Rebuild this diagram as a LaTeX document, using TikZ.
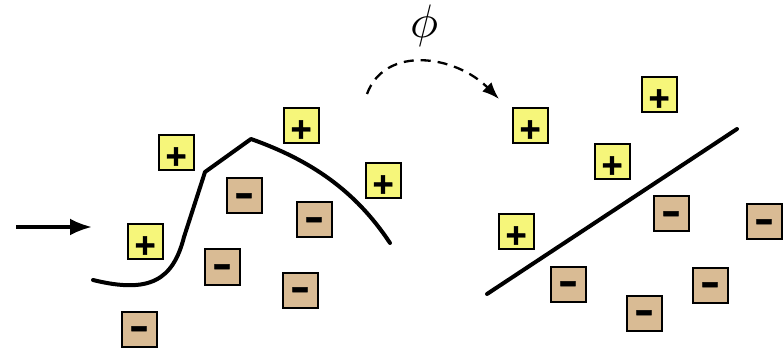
\documentclass[tikz,border=0pt]{standalone}
\usepackage{fontspec}
\newfontfamily\signfont[FakeBold=1.2]{Liberation Sans}
\usetikzlibrary{arrows.meta}
\definecolor{posfill}{RGB}{246,246,122}
\definecolor{negfill}{RGB}{217,187,148}
\newcommand{\possign}{\raisebox{-15.5pt}[0pt][0pt]{+}}
\newcommand{\negsign}{\raisebox{-10.5pt}[0pt][0pt]{\scalebox{1.6}[1.15]{-}}}
\begin{document}
\begin{tikzpicture}[x=1pt,y=-1pt,
  chargebox/.style={draw=black,line width=2pt,minimum size=35pt,inner sep=0pt,
    font=\signfont\bfseries\fontsize{36}{36}\selectfont},
  posbox/.style={chargebox,fill=posfill},
  negbox/.style={chargebox,fill=negfill},
  bound/.style={line width=4pt,line cap=round,line join=round}]
\useasboundingbox (0,0) rectangle (783,352);
% left side
\node[posbox] (p1) at (176,153) {\possign};
\node[posbox] (p2) at (301,126) {\possign};
\node[posbox] (p3) at (383,181) {\possign};
\node[posbox] (p4) at (145,242) {\possign};
\node[negbox] (n1) at (244,196) {\negsign};
\node[negbox] (n2) at (314,220) {\negsign};
\node[negbox] (n3) at (222,267) {\negsign};
\node[negbox] (n4) at (300,290) {\negsign};
\node[negbox] (n5) at (139,329) {\negsign};
% right side
\node[posbox] (q1) at (530,126) {\possign};
\node[posbox] (q2) at (659,95) {\possign};
\node[posbox] (q3) at (612,162) {\possign};
\node[posbox] (q4) at (516,232) {\possign};
\node[negbox] (m1) at (671,214) {\negsign};
\node[negbox] (m2) at (764,222) {\negsign};
\node[negbox] (m3) at (568,284) {\negsign};
\node[negbox] (m4) at (710,285) {\negsign};
\node[negbox] (m5) at (644,313) {\negsign};
% input arrow
\coordinate (a0) at (16,227);
\coordinate (a1) at (92,227);
\draw[line width=3.5pt,-{Latex[length=22pt,width=17pt]}] (a0) -- (a1);
% curved boundary
\coordinate (c0) at (93,280);
\coordinate (c1) at (184,237);
\coordinate (c2) at (205,172);
\coordinate (c3) at (251,139);
\coordinate (c4) at (390,243);
\draw[bound] (c0) .. controls (150,294) and (173,280) .. (c1) -- (c2) -- (c3)
  .. controls (310,160) and (355,190) .. (c4);
% straight boundary
\coordinate (s0) at (487,294);
\coordinate (s1) at (737,129);
\draw[bound] (s0) -- (s1);
% mapping arrow
\coordinate (d0) at (367,94);
\coordinate (d1) at (499,99);
\draw[line width=2.3pt,dash pattern=on 10pt off 7pt,-{Latex[length=17pt,width=13pt]}]
  (d0) .. controls (385,45) and (455,55) .. (d1);
\node[scale=4.7,inner sep=0pt] (phi) at (424,26) {$\phi$};
\end{tikzpicture}
\end{document}
